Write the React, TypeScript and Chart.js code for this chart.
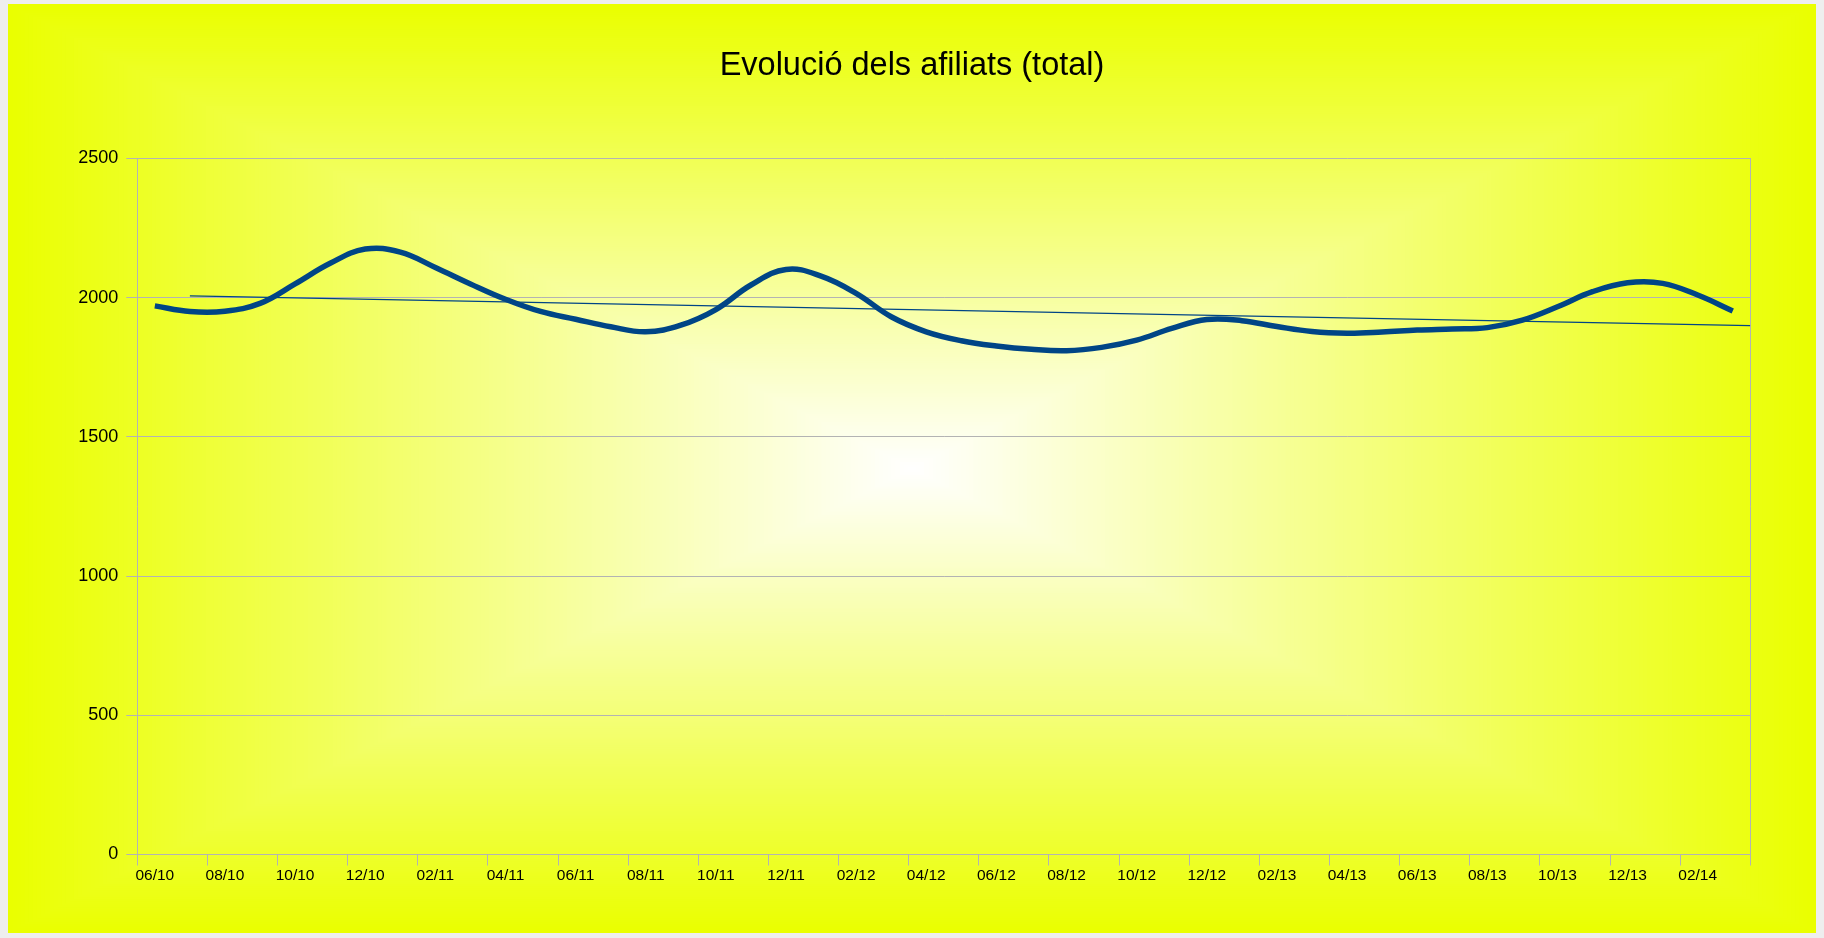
import React, { useEffect, useRef } from "react";
import { Chart, registerables } from "chart.js";

Chart.register(...registerables);

const TITLE = "Evolució dels afiliats (total)";

const MONTHS = [
  "06/10", "07/10", "08/10", "09/10", "10/10", "11/10", "12/10",
  "01/11", "02/11", "03/11", "04/11", "05/11", "06/11", "07/11", "08/11", "09/11", "10/11", "11/11", "12/11",
  "01/12", "02/12", "03/12", "04/12", "05/12", "06/12", "07/12", "08/12", "09/12", "10/12", "11/12", "12/12",
  "01/13", "02/13", "03/13", "04/13", "05/13", "06/13", "07/13", "08/13", "09/13", "10/13", "11/13", "12/13",
  "01/14", "02/14", "03/14",
];

const AFILIATS = [
  1970, 1950, 1951, 1979, 2049, 2123, 2174,
  2163, 2108, 2049, 1994, 1950, 1922, 1895, 1877, 1901, 1957, 2045, 2101,
  2077, 2015, 1931, 1877, 1845, 1826, 1814, 1809, 1821, 1847, 1889, 1921,
  1917, 1896, 1878, 1872, 1876, 1883, 1887, 1892, 1919, 1967, 2021, 2053,
  2051, 2009, 1952,
];

const Y_MIN = 0;
const Y_MAX = 2500;
const Y_STEP = 500;

// linear regression trend (category index as x)
const TREND_FROM = 1;
const TREND_TO = MONTHS.length - 0.5;

function regression(values: number[]) {
  const n = values.length;
  const mx = (n - 1) / 2;
  const my = values.reduce((a, b) => a + b, 0) / n;
  let sxy = 0;
  let sxx = 0;
  values.forEach((v, i) => {
    sxy += (i - mx) * (v - my);
    sxx += (i - mx) * (i - mx);
  });
  const slope = sxy / sxx;
  return (x: number) => my + slope * (x - mx);
}

const FONT = "'Liberation Sans', Arial, sans-serif";
const LINE_COLOR = "#004586";
const GRID_COLOR = "#b3b3b3";

const bgPlugin = {
  id: "rectGradientBg",
  beforeDraw(chart: any) {
    const { ctx, width, height } = chart;
    const cx = width / 2;
    const cy = height / 2;
    const N = 220;
    ctx.save();
    for (let k = 0; k < N; k++) {
      const t = 1 - k / N;
      const r = Math.round(255 + (234 - 255) * t);
      const g = 255;
      const b = Math.round(255 * (1 - t));
      ctx.fillStyle = `rgb(${r},${g},${b})`;
      const hw = (width / 2) * t;
      const hh = (height / 2) * t;
      ctx.fillRect(cx - hw, cy - hh, hw * 2, hh * 2);
    }
    ctx.restore();
  },
};

export default function App() {
  const ref = useRef<HTMLCanvasElement>(null);

  useEffect(() => {
    if (!ref.current) return;
    const trend = regression(AFILIATS);
    const chart = new Chart(ref.current, {
      type: "line",
      data: {
        labels: MONTHS,
        datasets: [
          {
            label: "Afiliats",
            data: AFILIATS,
            borderColor: LINE_COLOR,
            backgroundColor: LINE_COLOR,
            borderWidth: 5.5,
            pointRadius: 0,
            tension: 0.4,
            fill: false,
            xAxisID: "x",
            yAxisID: "y",
          },
          {
            label: "Tendència",
            data: [
              { x: TREND_FROM, y: trend(TREND_FROM) },
              { x: TREND_TO, y: trend(TREND_TO) },
            ],
            borderColor: LINE_COLOR,
            borderWidth: 1.3,
            pointRadius: 0,
            tension: 0,
            fill: false,
            xAxisID: "x2",
            yAxisID: "y",
          },
        ],
      },
      options: {
        animation: false,
        responsive: true,
        maintainAspectRatio: false,
        layout: { padding: 0 },
        plugins: {
          legend: { display: false },
          tooltip: { enabled: false },
          title: {
            display: true,
            text: TITLE,
            color: "#000",
            font: { family: FONT, size: 32.5, weight: "normal" },
            padding: { top: 42.5, bottom: 72.8 },
          },
        },
        scales: {
          x: {
            type: "category",
            offset: true,
            grid: {
              offset: true,
              drawOnChartArea: false,
              drawTicks: true,
              tickLength: 11,
              lineWidth: 1,
              color: (c: any) =>
                c.index === undefined || c.index % 2 === 0 ? GRID_COLOR : "rgba(0,0,0,0)",
            },
            border: { display: true, color: GRID_COLOR },
            ticks: {
              autoSkip: false,
              maxRotation: 0,
              minRotation: 0,
              padding: 1,
              color: "#000",
              font: { family: FONT, size: 15.5 },
              callback: (_v: any, i: number) => (i % 2 === 0 ? MONTHS[i] : ""),
            },
            afterFit: (s: any) => {
              s.height = 78.5;
            },
          },
          x2: {
            type: "linear",
            display: false,
            min: -0.5,
            max: MONTHS.length - 0.5,
          },
          y: {
            type: "linear",
            position: "left",
            min: Y_MIN,
            max: Y_MAX,
            ticks: {
              stepSize: Y_STEP,
              padding: 8,
              color: "#000",
              font: { family: FONT, size: 18 },
              callback: (v: any) => String(v),
            },
            grid: { color: GRID_COLOR, tickLength: 11, lineWidth: 1 },
            border: { display: true, color: GRID_COLOR },
            afterFit: (s: any) => {
              s.width = 129.3;
            },
          },
          yRight: {
            type: "linear",
            position: "right",
            min: Y_MIN,
            max: Y_MAX,
            grid: { display: false },
            ticks: { display: false },
            border: { display: true, color: GRID_COLOR },
            afterFit: (s: any) => {
              s.width = 65.7;
            },
          },
        },
      },
      plugins: [bgPlugin],
    });
    return () => chart.destroy();
  }, []);

  return (
    <div style={{ position: "fixed", inset: 0, background: "#eeeeee" }}>
      <div style={{ position: "absolute", left: 8, top: 4, width: 1808, height: 929 }}>
        <canvas ref={ref} />
      </div>
    </div>
  );
}
